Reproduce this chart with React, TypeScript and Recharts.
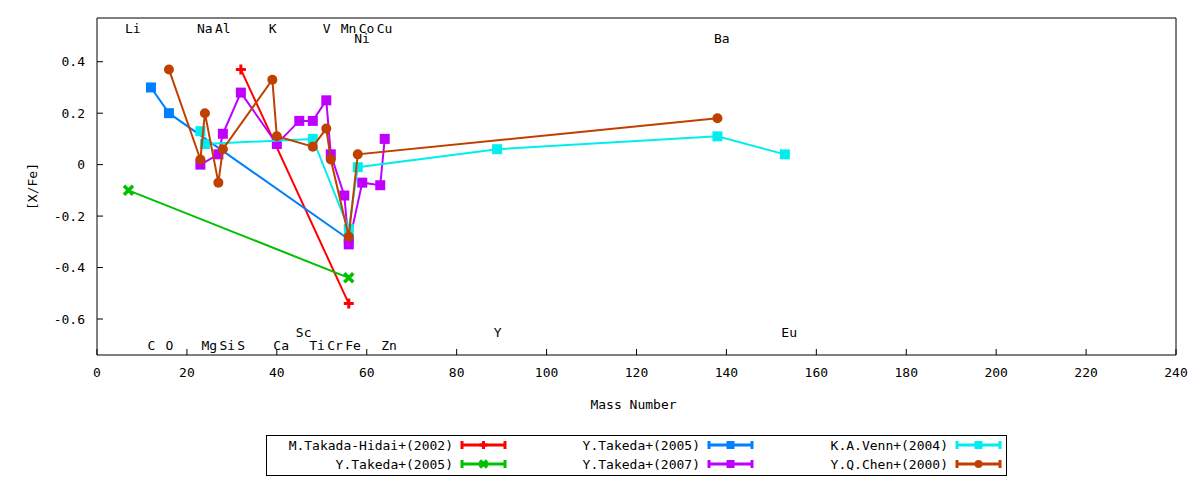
import React from 'react';
import { ScatterChart, Scatter, XAxis, YAxis } from 'recharts';

const FONT = '"DejaVu Sans Mono", monospace';

// ---- data: mass number (x) and [X/Fe] (y) per study ----
const takadaHidaiMass = [32, 56];
const takadaHidaiXFe = [0.37, -0.54];
const takeda2005aMass = [7, 56];
const takeda2005aXFe = [-0.1, -0.44];
const takeda2005bMass = [12, 16, 56];
const takeda2005bXFe = [0.3, 0.2, -0.29];
const takeda2007Mass = [23, 27, 28, 32, 40, 45, 48, 51, 52, 55, 56, 59, 63, 64];
const takeda2007XFe = [0.0, 0.04, 0.12, 0.28, 0.08, 0.17, 0.17, 0.25, 0.04, -0.12, -0.31, -0.07, -0.08, 0.1];
const vennMass = [23, 24, 48, 56, 58, 89, 138, 153];
const vennXFe = [0.13, 0.08, 0.1, -0.25, -0.01, 0.06, 0.11, 0.04];
const chenMass = [16, 23, 24, 27, 28, 39, 40, 48, 51, 52, 56, 58, 138];
const chenXFe = [0.37, 0.02, 0.2, -0.07, 0.06, 0.33, 0.11, 0.07, 0.14, 0.02, -0.28, 0.04, 0.18];

const seriesNames = [
  'M.Takada-Hidai+(2002)',
  'Y.Takeda+(2005)',
  'Y.Takeda+(2005)',
  'Y.Takeda+(2007)',
  'K.A.Venn+(2004)',
  'Y.Q.Chen+(2000)',
];
const seriesColors = ['#ff0000', '#00c000', '#0080ff', '#c000ff', '#00eeee', '#c04000'];
const seriesMarkers = ['plus', 'cross', 'square', 'square', 'square', 'circle'];
const seriesMass = [takadaHidaiMass, takeda2005aMass, takeda2005bMass, takeda2007Mass, vennMass, chenMass];
const seriesXFe = [takadaHidaiXFe, takeda2005aXFe, takeda2005bXFe, takeda2007XFe, vennXFe, chenXFe];

// ---- element labels ----
const elementRows = [
  { names: ['Li', 'Na', 'Al', 'K', 'V', 'Mn', 'Co', 'Cu'], mass: [7, 23, 27, 39, 51, 55, 59, 63] },
  { names: ['Ni', 'Ba'], mass: [58, 138] },
  { names: ['Sc', 'Y', 'Eu'], mass: [45, 89, 153] },
  { names: ['C', 'O', 'Mg', 'Si', 'S', 'Ca', 'Ti', 'Cr', 'Fe', 'Zn'], mass: [12, 16, 24, 28, 32, 40, 48, 52, 56, 64] },
];
const elementRowLevel = [0.512, 0.4725, -0.669, -0.72];

const xTicks = [0, 20, 40, 60, 80, 100, 120, 140, 160, 180, 200, 220, 240];
const yTicks = [-0.6, -0.4, -0.2, 0, 0.2, 0.4];
const xDomain = [0, 240];
const yDomain = [-0.74, 0.57];

const seriesData = seriesMass.map((ms, i) => ms.map((m, j) => ({ x: m, y: seriesXFe[i][j] })));
const labelData = elementRows.flatMap((row, r) =>
  row.names.map((n, j) => ({ x: row.mass[j], y: elementRowLevel[r], name: n }))
);

function Marker({ kind, cx, cy, color, s = 5 }: any) {
  if (kind === 'square') return <rect x={cx - s} y={cy - s} width={2 * s} height={2 * s} fill={color} />;
  if (kind === 'circle') return <circle cx={cx} cy={cy} r={s} fill={color} />;
  if (kind === 'plus')
    return (
      <path d={`M${cx - s},${cy}H${cx + s}M${cx},${cy - s}V${cy + s}`} stroke={color} strokeWidth={3} fill="none" />
    );
  const d = s * 0.9;
  return (
    <path
      d={`M${cx - d},${cy - d}L${cx + d},${cy + d}M${cx - d},${cy + d}L${cx + d},${cy - d}`}
      stroke={color}
      strokeWidth={3.5}
      fill="none"
    />
  );
}

function LegendBox() {
  const colText = [187, 434, 682];
  const rowY = [10, 29];
  // column-major order: col0 -> series 0,1 ; col1 -> 2,3 ; col2 -> 4,5
  return (
    <div
      style={{
        position: 'absolute',
        left: 258,
        top: 427,
        width: 741,
        height: 41,
        boxSizing: 'border-box',
        border: '1px solid #000',
        background: '#fff',
      }}
    >
      <svg width={739} height={39} style={{ position: 'absolute', left: 0, top: 0, display: 'block' }}>
        {seriesNames.map((name, i) => {
          const c = Math.floor(i / 2);
          const r = i % 2;
          const tx = colText[c] - 1;
          const y = rowY[r] - 1;
          const x0 = tx + 9;
          const x1 = tx + 52;
          const col = seriesColors[i];
          return (
            <g key={i}>
              <text x={tx} y={y + 4.5} textAnchor="end" fontFamily={FONT} fontSize={13} fill="#000">
                {name}
              </text>
              <line x1={x0} y1={y} x2={x1} y2={y} stroke={col} strokeWidth={3} />
              <line x1={x0} y1={y - 4} x2={x0} y2={y + 4} stroke={col} strokeWidth={3} />
              <line x1={x1} y1={y - 4} x2={x1} y2={y + 4} stroke={col} strokeWidth={3} />
              <Marker kind={seriesMarkers[i]} cx={(x0 + x1) / 2} cy={y} color={col} s={4} />
            </g>
          );
        })}
      </svg>
    </div>
  );
}

const tickStyle = { fontSize: 13, fill: '#000', fontFamily: FONT };

export default function App() {
  return (
    <div style={{ position: 'relative', width: 1184, height: 470, fontFamily: FONT }}>
      <ScatterChart width={1184} height={464} margin={{ top: 9, right: 15, left: 0, bottom: 72 }}>
        <XAxis
          type="number"
          dataKey="x"
          xAxisId="b"
          domain={xDomain}
          ticks={xTicks}
          allowDataOverflow
          height={45}
          tickSize={-6}
          tickMargin={19}
          tick={tickStyle}
          axisLine={{ stroke: '#000' }}
          tickLine={{ stroke: '#000' }}
          label={{ value: 'Mass Number', position: 'bottom', offset: 0, fontSize: 13, fill: '#000', fontFamily: FONT, dx: -3 }}
        />
        <XAxis
          type="number"
          dataKey="x"
          xAxisId="t"
          orientation="top"
          domain={xDomain}
          ticks={xTicks}
          allowDataOverflow
          height={1}
          tickSize={-6}
          tick={false}
          axisLine={{ stroke: '#000' }}
          tickLine={{ stroke: '#000' }}
        />
        <YAxis
          type="number"
          dataKey="y"
          yAxisId="l"
          domain={yDomain}
          ticks={yTicks}
          allowDataOverflow
          width={89}
          tickSize={-6}
          tickMargin={18}
          tick={tickStyle}
          axisLine={{ stroke: '#000' }}
          tickLine={{ stroke: '#000' }}
          label={{
            value: '[X/Fe]',
            angle: -90,
            position: 'insideLeft',
            offset: 24,
            fontSize: 13,
            fill: '#000',
            fontFamily: FONT,
            style: { textAnchor: 'middle' },
          }}
        />
        <YAxis
          type="number"
          dataKey="y"
          yAxisId="r"
          orientation="right"
          domain={yDomain}
          ticks={yTicks}
          allowDataOverflow
          width={1}
          tickSize={-6}
          tick={false}
          axisLine={{ stroke: '#000' }}
          tickLine={{ stroke: '#000' }}
        />
        <Scatter
          data={seriesData[0]}
          xAxisId="t"
          yAxisId="r"
          isAnimationActive={false}
          shape={() => <g />}
        />
        <Scatter
          data={labelData}
          xAxisId="b"
          yAxisId="l"
          isAnimationActive={false}
          shape={(p: any) => (
            <text x={p.cx} y={p.cy} dx={-3.5} textAnchor="start" fontFamily={FONT} fontSize={13} fill="#000">
              {p.payload.name}
            </text>
          )}
        />
        {seriesData.map((d, i) => (
          <Scatter
            key={i}
            name={seriesNames[i]}
            data={d}
            xAxisId="b"
            yAxisId="l"
            isAnimationActive={false}
            line={{ stroke: seriesColors[i], strokeWidth: 2 }}
            shape={(p: any) => <Marker kind={seriesMarkers[i]} cx={p.cx} cy={p.cy} color={seriesColors[i]} />}
          />
        ))}
      </ScatterChart>
      <LegendBox />
    </div>
  );
}
